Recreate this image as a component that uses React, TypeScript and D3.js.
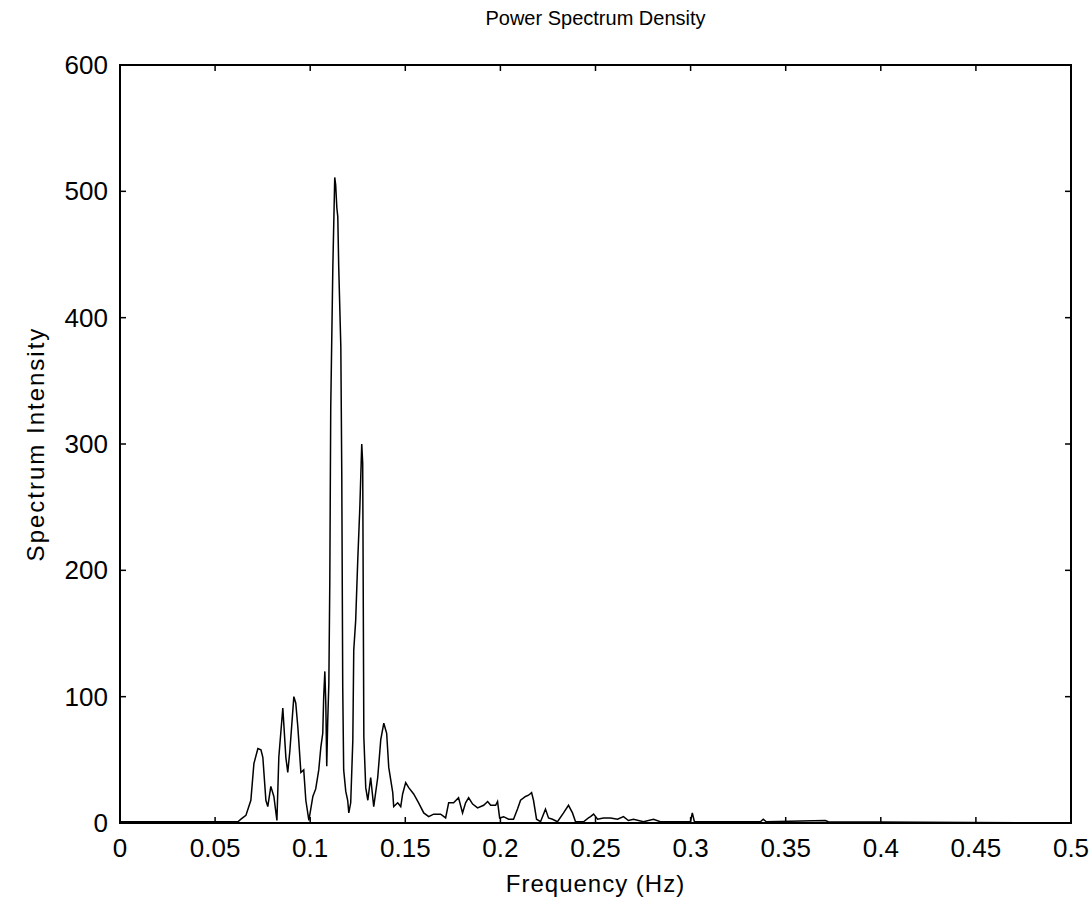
import React from "react";
import * as d3 from "d3";

// Frequency (Hz) samples of the spectrum
const freqs: number[] = [
  0, 0.0425, 0.0620, 0.0636, 0.0662, 0.0688, 0.0704, 0.0725, 0.0741, 0.0751,
  0.0767, 0.0777, 0.0793, 0.0809, 0.0825, 0.0835, 0.0856, 0.0861, 0.0872, 0.0882,
  0.0893, 0.0914, 0.0924, 0.0935, 0.0940, 0.0951, 0.0966, 0.0977, 0.0993, 0.1014,
  0.1029, 0.1045, 0.1056, 0.1066, 0.1071, 0.1077, 0.1082, 0.1087, 0.1092, 0.1098,
  0.1103, 0.1108, 0.1119, 0.1129, 0.1134, 0.1140, 0.1145, 0.1150, 0.1161, 0.1166,
  0.1171, 0.1176, 0.1187, 0.1197, 0.1203, 0.1213, 0.1224, 0.1229, 0.1239, 0.1250,
  0.1261, 0.1271, 0.1276, 0.1282, 0.1292, 0.1303, 0.1318, 0.1334, 0.1355, 0.1371,
  0.1387, 0.1402, 0.1413, 0.1434, 0.1439, 0.1460, 0.1476, 0.1486, 0.1502, 0.1518,
  0.1544, 0.1570, 0.1597, 0.1623, 0.1649, 0.1686, 0.1712, 0.1728, 0.1754, 0.1780,
  0.1801, 0.1817, 0.1833, 0.1854, 0.1880, 0.1912, 0.1933, 0.1949, 0.1975, 0.1985,
  0.1996, 0.2017, 0.2043, 0.2069, 0.2090, 0.2106, 0.2132, 0.2148, 0.2164, 0.2174,
  0.2190, 0.2211, 0.2237, 0.2253, 0.2274, 0.2300, 0.2332, 0.2358, 0.2379, 0.2395,
  0.2437, 0.2463, 0.2474, 0.2490, 0.2511, 0.2542, 0.2579, 0.2616, 0.2647, 0.2673,
  0.2700, 0.2752, 0.2805, 0.2841, 0.2999, 0.3009, 0.3020, 0.3367, 0.3382, 0.3398,
  0.3708, 0.3724, 0.5
];

// Spectrum intensity at each frequency
const intensity: number[] = [
  1, 1, 1, 3, 6, 18, 47, 59, 58, 52,
  18, 13, 29, 21, 2, 52, 91, 79, 52, 40,
  57, 100, 95, 76, 65, 40, 42, 18, 2, 21,
  27, 42, 60, 71, 100, 120, 95, 45, 80, 110,
  190, 329, 440, 511, 505, 487, 480, 440, 377, 277,
  108, 42, 25, 18, 8, 16, 65, 137, 160, 208,
  250, 300, 285, 68, 28, 18, 36, 13, 36, 66,
  79, 71, 44, 24, 13, 16, 13, 23, 32, 28,
  23, 16, 8, 5, 7, 7, 4, 16, 16, 20,
  8, 16, 20, 15, 12, 14, 17, 14, 14, 17,
  4, 5, 3, 3, 11, 18, 21, 22, 24, 18,
  3, 1, 11, 4, 3, 1, 8, 14, 8, 1,
  1, 4, 5, 7, 3, 4, 4, 3, 5, 2,
  3, 1, 3, 1, 1, 8, 1, 1, 3, 1,
  2, 1, 0
];

const xTicks: number[] = [0, 0.05, 0.1, 0.15, 0.2, 0.25, 0.3, 0.35, 0.4, 0.45, 0.5];
const xTickLabels: string[] = ["0", "0.05", "0.1", "0.15", "0.2", "0.25", "0.3", "0.35", "0.4", "0.45", "0.5"];
const yTicks: number[] = [0, 100, 200, 300, 400, 500, 600];

const TITLE = "Power Spectrum Density";
const XLABEL = "Frequency (Hz)";
const YLABEL = "Spectrum Intensity";

const W = 1092;
const H = 898;
const L = 120;
const R = 1071;
const T = 65;
const B = 823;
const FONT = "'Liberation Sans', Arial, Helvetica, sans-serif";

export default function App() {
  const x = d3.scaleLinear().domain([0, 0.5]).range([L, R]);
  const y = d3.scaleLinear().domain([0, 600]).range([B, T]);
  const pts = freqs.map((f, i) => [f, intensity[i]] as [number, number]);
  const line = d3
    .line<[number, number]>()
    .x((d) => x(d[0]))
    .y((d) => y(d[1]));
  const tl = 6;
  return (
    <svg
      width={W}
      height={H}
      style={{ position: "absolute", left: 0, top: 0, background: "#fff" }}
    >
      <rect x={0} y={0} width={W} height={H} fill="#fff" />
      <path d={line(pts) || ""} fill="none" stroke="#000" strokeWidth={1.5} />
      <rect x={L} y={T} width={R - L} height={B - T} fill="none" stroke="#000" strokeWidth={2} />
      {xTicks.map((t, i) => (
        <g key={"xt" + i}>
          <line x1={x(t)} x2={x(t)} y1={B} y2={B - tl} stroke="#000" strokeWidth={1.5} />
          <line x1={x(t)} x2={x(t)} y1={T} y2={T + tl} stroke="#000" strokeWidth={1.5} />
          <text
            x={x(t)}
            y={857}
            textAnchor="middle"
            fontFamily={FONT}
            fontSize={26}
            fill="#000"
          >
            {xTickLabels[i]}
          </text>
        </g>
      ))}
      {yTicks.map((t, i) => (
        <g key={"yt" + i}>
          <line x1={L} x2={L + tl} y1={y(t)} y2={y(t)} stroke="#000" strokeWidth={1.5} />
          <line x1={R} x2={R - tl} y1={y(t)} y2={y(t)} stroke="#000" strokeWidth={1.5} />
          <text
            x={108}
            y={y(t) + 9}
            textAnchor="end"
            fontFamily={FONT}
            fontSize={26}
            fill="#000"
          >
            {t}
          </text>
        </g>
      ))}
      <text x={(L + R) / 2} y={25} textAnchor="middle" fontFamily={FONT} fontSize={20} fill="#000">
        {TITLE}
      </text>
      <text
        x={(L + R) / 2}
        y={892}
        textAnchor="middle"
        fontFamily={FONT}
        fontSize={24}
        letterSpacing={1}
        fill="#000"
      >
        {XLABEL}
      </text>
      <text
        transform={`translate(44, ${(T + B) / 2}) rotate(-90)`}
        textAnchor="middle"
        fontFamily={FONT}
        fontSize={24}
        letterSpacing={2}
        fill="#000"
      >
        {YLABEL}
      </text>
    </svg>
  );
}
